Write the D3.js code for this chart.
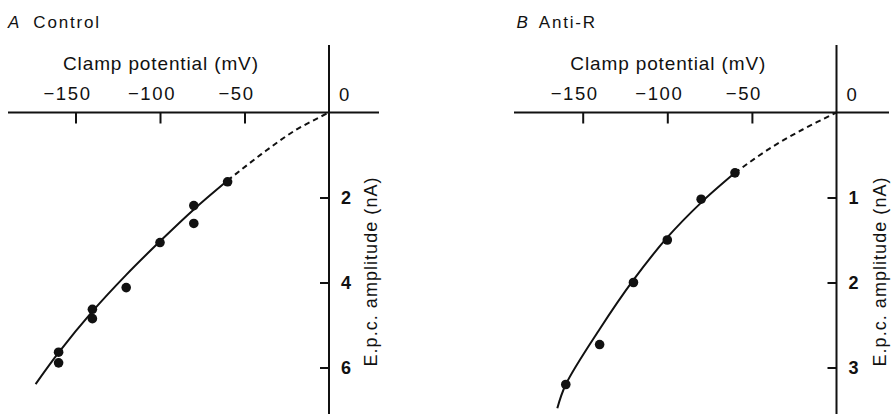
<!DOCTYPE html>
<html>
<head>
<meta charset="utf-8">
<script src="https://cdn.jsdelivr.net/npm/d3@7"></script>
<style>
  html, body { margin: 0; padding: 0; background: #fff; }
  svg { display: block; }
  text { font-family: "Liberation Sans", Arial, Helvetica, sans-serif; fill: #111; }
</style>
</head>
<body>
<svg id="chart" width="891" height="414"></svg>
<script>
// Clamp potential (mV) tick values shared by both panels
const voltageTicks = [-150, -100, -50];

// Panel A: control end-plate currents
const controlV   = [-60, -80, -80, -100, -120, -140, -140, -160, -160];
const controlAmp = [1.63, 2.19, 2.61, 3.06, 4.12, 4.63, 4.85, 5.64, 5.89];
const controlFitV   = [0, -20, -40, -60, -80, -100, -120, -140, -160, -173.6];
const controlFitAmp = [0, 0.42, 0.98, 1.6, 2.28, 3.03, 3.82, 4.68, 5.65, 6.39];
const controlAmpTicks = [2, 4, 6];

// Panel B: after anti-receptor antibody
const antiRV   = [-60, -80, -100, -120, -140, -160];
const antiRAmp = [0.71, 1.02, 1.50, 2.00, 2.73, 3.20];
const antiRFitV   = [0, -20, -40, -60, -80, -100, -120, -140, -160, -165];
const antiRFitAmp = [0, 0.2, 0.43, 0.71, 1.06, 1.47, 1.97, 2.55, 3.2, 3.48];
const antiRAmpTicks = [1, 2, 3];

const panels = [
  { letter: "A", name: "Control", titleX: 8, nameGap: 14,
    xRange: [75.5, 329], xLine: [8, 379], ampMax: 6,
    v: controlV, amp: controlAmp, fitV: controlFitV, fitAmp: controlFitAmp,
    ampTicks: controlAmpTicks, yLabelX: 376.5 },
  { letter: "B", name: "Anti-R", titleX: 516.5, nameGap: 11,
    xRange: [582.7, 836.5], xLine: [514, 889], ampMax: 3,
    v: antiRV, amp: antiRAmp, fitV: antiRFitV, fitAmp: antiRFitAmp,
    ampTicks: antiRAmpTicks, yLabelX: 886 }
];

const svg = d3.select("#chart");
const axisY = 112.5;      // horizontal (potential) axis
const ampBottom = 367.5;  // pixel row of the top amplitude tick
const SW = 2;

panels.forEach(p => {
  const x = d3.scaleLinear().domain([-150, 0]).range(p.xRange);
  const y = d3.scaleLinear().domain([0, p.ampMax]).range([axisY, ampBottom]);
  const x0 = x(0);
  const g = svg.append("g");

  // Panel title
  const title = g.append("text")
    .attr("x", p.titleX).attr("y", 27.5)
    .attr("font-size", 17).attr("letter-spacing", 1.8);
  title.append("tspan").attr("font-style", "italic").text(p.letter);
  title.append("tspan").attr("dx", p.nameGap - 1.8).text(p.name);

  // Axis lines
  g.append("line")
    .attr("x1", p.xLine[0]).attr("x2", p.xLine[1])
    .attr("y1", axisY).attr("y2", axisY)
    .attr("stroke", "#111").attr("stroke-width", SW);
  g.append("line")
    .attr("x1", x0).attr("x2", x0)
    .attr("y1", 45).attr("y2", 414)
    .attr("stroke", "#111").attr("stroke-width", SW);

  // Potential ticks (hanging below the axis)
  const xAxis = g.append("g")
    .attr("transform", `translate(0,${axisY})`)
    .call(d3.axisBottom(x).tickValues(voltageTicks).tickSize(11).tickFormat(""));
  xAxis.select(".domain").remove();
  xAxis.selectAll(".tick line").attr("stroke", "#111").attr("stroke-width", SW);

  // Potential tick labels above the axis
  g.selectAll(".vlab").data(voltageTicks).join("text")
    .attr("class", "vlab")
    .attr("x", d => x(d) - 8).attr("y", 100)
    .attr("text-anchor", "middle")
    .attr("font-size", 18.5).attr("letter-spacing", 1.6)
    .text(d => "\u2212" + Math.abs(d));
  g.append("text")
    .attr("x", x0 + 10).attr("y", 101)
    .attr("font-size", 18.5)
    .text("0");

  g.append("text")
    .attr("x", (x(-150) + x(-50)) / 2 + 0.5).attr("y", 69.5)
    .attr("text-anchor", "middle")
    .attr("font-size", 19)
    .attr("textLength", 195).attr("lengthAdjust", "spacing")
    .text("Clamp potential (mV)");

  // Amplitude ticks (to the left of the vertical axis)
  const yAxis = g.append("g")
    .attr("transform", `translate(${x0},0)`)
    .call(d3.axisLeft(y).tickValues(p.ampTicks).tickSize(9).tickFormat(""));
  yAxis.select(".domain").remove();
  yAxis.selectAll(".tick line").attr("stroke", "#111").attr("stroke-width", SW);

  g.selectAll(".alab").data(p.ampTicks).join("text")
    .attr("class", "alab")
    .attr("x", x0 + 12).attr("y", d => y(d))
    .attr("dy", "0.37em")
    .attr("font-size", 18).attr("font-weight", "bold")
    .text(d => d);

  // Amplitude axis title, rotated
  g.append("text")
    .attr("transform", `translate(${p.yLabelX},272) rotate(-90)`)
    .attr("text-anchor", "middle")
    .attr("font-size", 18)
    .attr("textLength", 189).attr("lengthAdjust", "spacing")
    .text("E.p.c. amplitude (nA)");

  // Fitted curve: solid over the measured range, dashed towards 0 mV
  const fit = p.fitV.map((v, i) => [v, p.fitAmp[i]]);
  const line = d3.line()
    .x(d => x(d[0])).y(d => y(d[1]))
    .curve(d3.curveCatmullRom.alpha(0.5));
  const solid = fit.filter(d => d[0] <= -60).sort((a, b) => a[0] - b[0]);
  const dashed = fit.filter(d => d[0] >= -60).sort((a, b) => a[0] - b[0]);

  g.append("path").attr("d", line(solid))
    .attr("fill", "none").attr("stroke", "#111").attr("stroke-width", SW);
  g.append("path").attr("d", line(dashed))
    .attr("fill", "none").attr("stroke", "#111").attr("stroke-width", SW)
    .attr("stroke-dasharray", "5.5,4");

  // Measured points
  g.selectAll(".pt").data(p.v.map((v, i) => [v, p.amp[i]])).join("circle")
    .attr("class", "pt")
    .attr("cx", d => x(d[0])).attr("cy", d => y(d[1]))
    .attr("r", 4.8).attr("fill", "#111");
});
</script>
</body>
</html>
